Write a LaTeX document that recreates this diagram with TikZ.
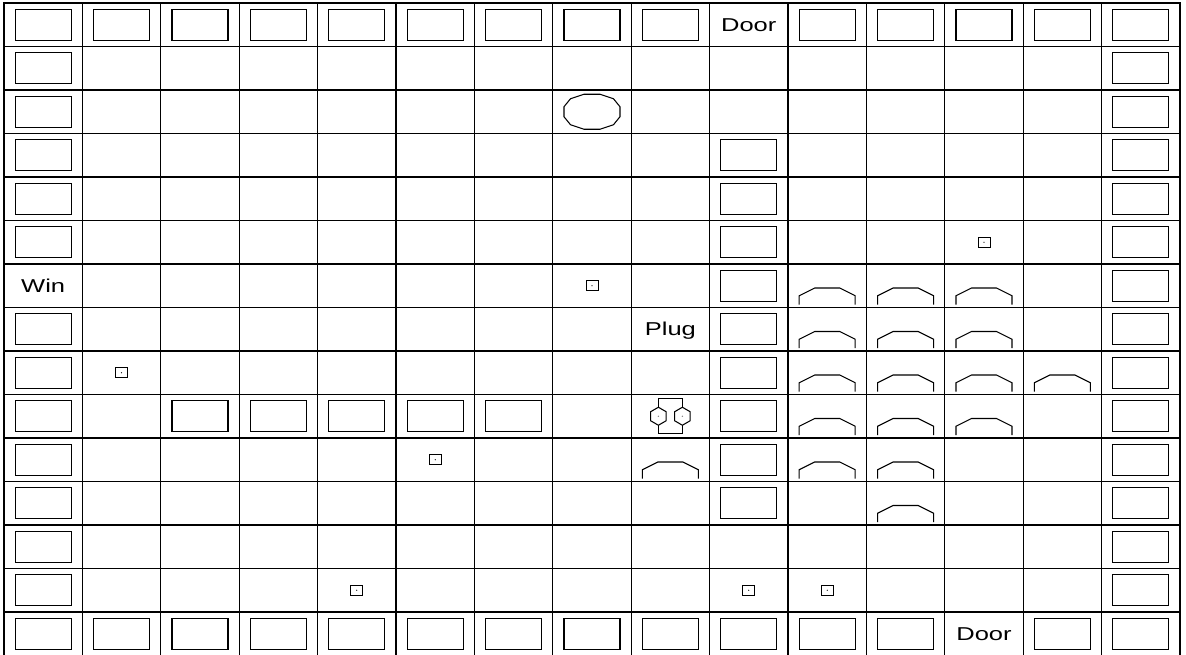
\documentclass[tikz,border=0pt]{standalone}
\usepackage{fontspec}
\newfontfamily\labelfont[FakeStretch=1.37]{Liberation Sans}
\usetikzlibrary{shapes.geometric}

\begin{document}
\begin{tikzpicture}[
        x=1.568cm, y=-0.87cm,
        gridline/.style={draw=black, line width=0.6pt},
        frame/.style={draw=black, line width=1.1pt},
        seat/.style={draw, line width=0.6pt, minimum width=1.12cm, minimum height=0.62cm, inner sep=0pt},
        tag/.style={font=\labelfont\fontsize{10.6}{12}\selectfont, inner sep=0pt, text height=0.266cm, text depth=0pt},
        outlet/.style={draw, line width=0.45pt, minimum width=0.24cm, minimum height=0.2cm, inner sep=0pt},
        hexa/.style={draw, fill=white, line width=0.6pt, regular polygon, regular polygon sides=6, rotate=30, minimum size=0.36cm, inner sep=0pt},
        chair/.pic={\draw[line width=0.6pt] (-0.56cm,-0.38cm) -- (-0.56cm,-0.2cm) -- (-0.25cm,-0.045cm) -- (0.25cm,-0.045cm) -- (0.56cm,-0.2cm) -- (0.56cm,-0.38cm);}
    ]
        \useasboundingbox (-0.051,-0.069) rectangle (15.077,14.966);

        % Room grid
        \foreach \i in {1,...,14} \draw[gridline] (\i,0) -- (\i,15);
        \foreach \i in {1,...,14} \draw[gridline] (0,\i) -- (15,\i);
        \draw[frame] (0,0) rectangle (15,15);

        % Seats along the walls
        \foreach \c in {0,1,2,3,4,5,6,7,8,10,11,12,13,14} \node[seat] (top-\c) at (\c+0.5,0.5) {};
        \foreach \c in {0,1,2,3,4,5,6,7,8,9,10,11,13,14} \node[seat] (bot-\c) at (\c+0.5,14.5) {};
        \foreach \r in {1,2,3,4,5,7,8,9,10,11,12,13} \node[seat] (lft-\r) at (0.5,\r+0.5) {};
        \foreach \r in {1,...,13} \node[seat] (rgt-\r) at (14.5,\r+0.5) {};

        % Inner seats
        \foreach \r in {3,...,11} \node[seat] (mid-\r) at (9.5,\r+0.5) {};
        \foreach \c in {2,...,6} \node[seat] (bench-\c) at (\c+0.5,9.5) {};

        % Labels
        \node[tag] (door-top) at (9.5,0.5) {Door};
        \node[tag] (door-bot) at (12.5,14.5) {Door};
        \node[tag] (win) at (0.5,6.5) {Win};
        \node[tag] (plug) at (8.5,7.5) {Plug};

        % Table
        \coordinate (table) at (7.5,2.5);
        \draw[line width=0.6pt, shift={(table)}] (-0.56cm,0.1cm) -- (-0.43cm,0.26cm) -- (-0.16cm,0.35cm) -- (0.16cm,0.35cm) -- (0.43cm,0.26cm) -- (0.56cm,0.1cm) -- (0.56cm,-0.1cm) -- (0.43cm,-0.26cm) -- (0.16cm,-0.35cm) -- (-0.16cm,-0.35cm) -- (-0.43cm,-0.26cm) -- (-0.56cm,-0.1cm) -- cycle;

        % Outlets
        \foreach \c/\r [count=\i] in {12/5,7/6,1/8,5/10,4/13,9/13,10/13} {
            \node[outlet] (outlet-\i) at (\c+0.5,\r+0.5) {};
            \fill (outlet-\i.center) circle (0.35pt);
        }

        % Double socket
        \coordinate (socket) at (8.5,9.5);
        \draw[line width=0.6pt] ([shift={(-0.24cm,0.35cm)}]socket) rectangle ([shift={(0.24cm,-0.35cm)}]socket);
        \node[hexa] (hex-l) at ([xshift=-0.24cm]socket) {};
        \node[hexa] (hex-r) at ([xshift=0.24cm]socket) {};
        \fill[gray] (hex-l.center) circle (0.4pt);
        \fill[gray] (hex-r.center) circle (0.4pt);

        % Chairs
        \foreach \c/\r in {10/6,11/6,12/6,10/7,11/7,12/7,10/8,11/8,12/8,13/8,10/9,11/9,12/9,8/10,10/10,11/10,11/11}
            \pic at (\c+0.5,\r+0.5) {chair};
    \end{tikzpicture}
\end{document}
